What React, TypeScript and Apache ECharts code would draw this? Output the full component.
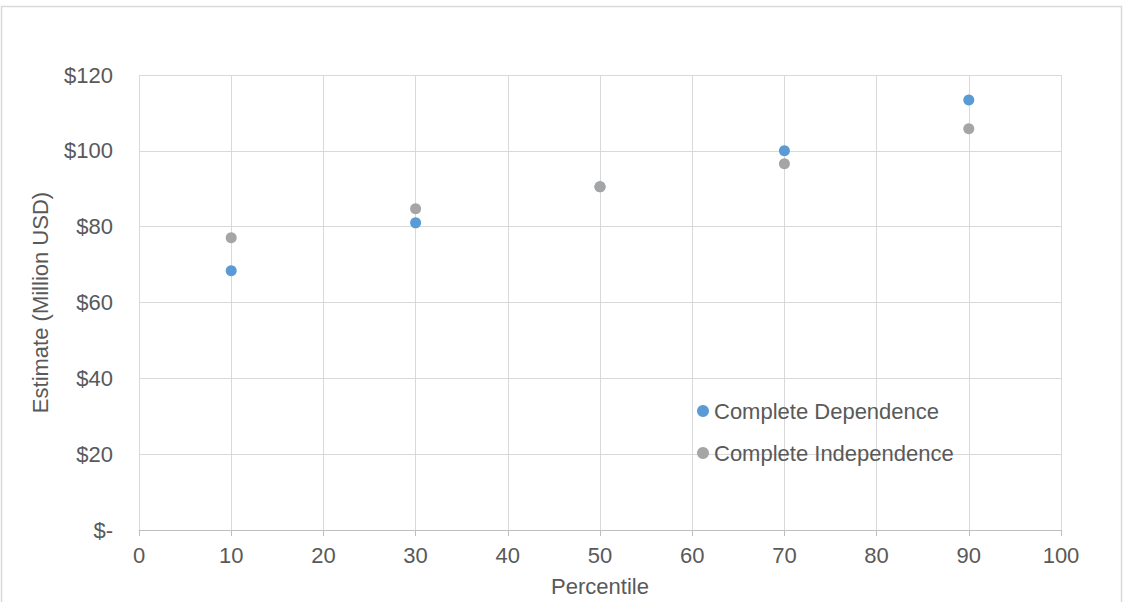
import React, { useEffect, useRef } from "react";
import * as echarts from "echarts";

const percentiles = [10, 30, 50, 70, 90];
const dependence = [68.4, 81.0, 90.5, 100.0, 113.4];
const independence = [77.1, 84.7, 90.5, 96.6, 105.8];
const seriesNames = ["Complete Dependence", "Complete Independence"];

export default function App() {
  const ref = useRef<HTMLDivElement>(null);
  useEffect(() => {
    const chart = echarts.init(ref.current!, null, { renderer: "svg" });
    const font = "'Liberation Sans', Arial, sans-serif";
    const fs = 22;
    chart.setOption({
      animation: false,
      backgroundColor: "#ffffff",
      textStyle: { fontFamily: font },
      graphic: [
        {
          type: "rect",
          shape: { x: 1.5, y: 6.5, width: 1120, height: 620 },
          style: { fill: "none", stroke: "#d9d9d9", lineWidth: 1.5 },
          silent: true,
          z: -10,
        },
      ],
      grid: { left: 139, right: 62, top: 75, bottom: 71, containLabel: false },
      legend: {
        orient: "vertical",
        left: 692,
        top: 395,
        itemGap: 20,
        itemWidth: 12,
        itemHeight: 12,
        textStyle: { fontSize: fs, color: "#595959", fontFamily: font },
        data: seriesNames.map((n) => ({ name: n, icon: "circle" })),
      },
      xAxis: {
        type: "value",
        min: 0,
        max: 100,
        interval: 10,
        name: "Percentile",
        nameLocation: "middle",
        nameGap: 45,
        nameTextStyle: { fontSize: fs, color: "#595959", fontFamily: font },
        axisLine: { show: true, lineStyle: { color: "#bfbfbf", width: 1 } },
        axisTick: { show: true, length: 6, lineStyle: { color: "#bfbfbf" } },
        axisLabel: { fontSize: fs, color: "#595959", margin: 14, fontFamily: font },
        splitLine: { show: true, lineStyle: { color: "#d9d9d9", width: 1 } },
      },
      yAxis: {
        type: "value",
        min: 0,
        max: 120,
        interval: 20,
        name: "Estimate (Million USD)",
        nameLocation: "middle",
        nameGap: 88,
        nameTextStyle: { fontSize: fs, color: "#595959", fontFamily: font },
        axisLine: { show: false },
        axisTick: { show: false },
        axisLabel: {
          fontSize: fs,
          color: "#595959",
          margin: 26,
          fontFamily: font,
          formatter: (v: number) => (v === 0 ? "$-" : "$" + v),
        },
        splitLine: { show: true, lineStyle: { color: "#d9d9d9", width: 1 } },
      },
      series: [
        {
          name: seriesNames[0],
          type: "scatter",
          symbol: "circle",
          symbolSize: 11,
          itemStyle: { color: "#5B9BD5", opacity: 1 },
          data: percentiles.map((p, i) => [p, dependence[i]]),
        },
        {
          name: seriesNames[1],
          type: "scatter",
          symbol: "circle",
          symbolSize: 11,
          itemStyle: { color: "#A5A5A5", opacity: 1 },
          data: percentiles.map((p, i) => [p, independence[i]]),
        },
      ],
    });
    return () => chart.dispose();
  }, []);
  return (
    <div
      ref={ref}
      style={{ position: "fixed", left: 0, top: 0, width: 1123, height: 602 }}
    />
  );
}
